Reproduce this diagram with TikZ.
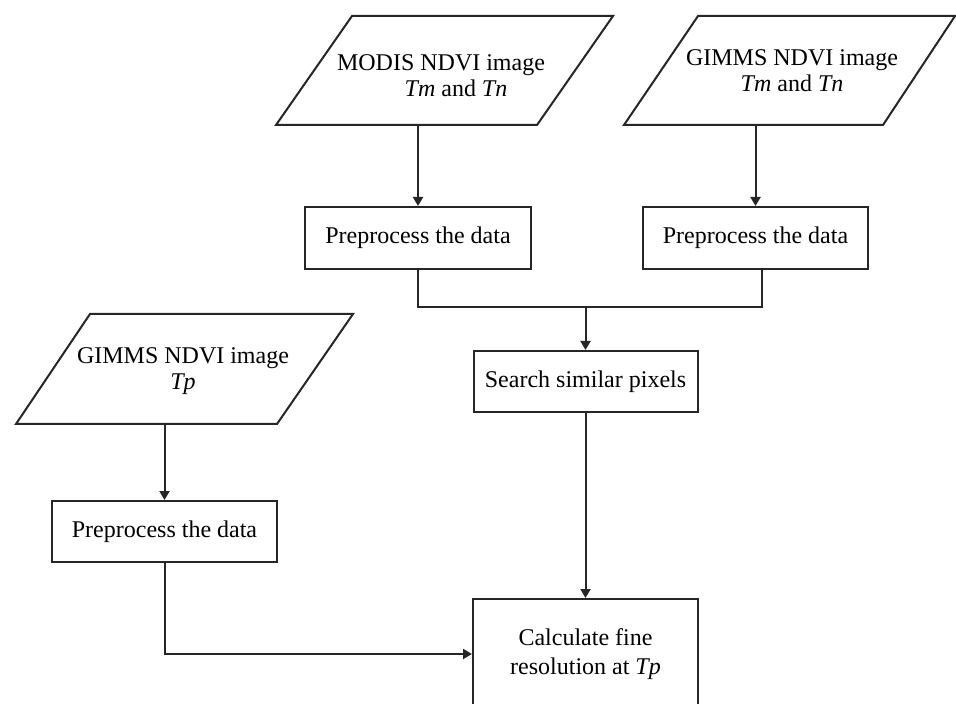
\documentclass[tikz,border=0pt]{standalone}
\usepackage{fontspec}
\setmainfont{Liberation Serif}
\usetikzlibrary{arrows.meta,calc}
\definecolor{ln}{HTML}{262626}
\begin{document}
\begin{tikzpicture}[x=0.5pt,y=-0.5pt,
  box/.style={draw=ln, line width=1pt, inner sep=0pt, align=center,
    font=\fontsize{12}{14.5}\selectfont},
  para/.style={draw=ln, line width=1pt, line join=miter},
  ptext/.style={inner sep=0pt, align=center, font=\fontsize{12}{13}\selectfont},
  arr/.style={draw=ln, line width=1pt, -{Triangle[length=4.5pt,width=5pt]}},
  con/.style={draw=ln, line width=1pt}]
\useasboundingbox (0,0) rectangle (956,704);
\clip (0,0) rectangle (956,704);
\fill[white] (0,0) rectangle (956,704);

% parallelograms
\draw[para] (276,125) -- (352,16) -- (613,16) -- (537,125) -- cycle;
\node[ptext] (modis) at (441,76) {MODIS NDVI image\\\hspace*{15pt}\textit{Tm} and \textit{Tn}};
\coordinate (mo) at (418,125);

\draw[para] (624,125) -- (698,16) -- (955,16) -- (883,125) -- cycle;
\node[ptext] (gimms) at (792,71) {GIMMS NDVI image\\\textit{Tm} and \textit{Tn}};
\coordinate (go) at (755.5,125);

\draw[para] (16,424) -- (90,314) -- (353,314) -- (277,424) -- cycle;
\node[ptext] (gtp) at (183,371.5) {GIMMS NDVI image\\\textit{Tp}};
\coordinate (to) at (164.5,424);

% boxes
\node[box, minimum width=113pt, minimum height=31pt] (p1) at (418,238) {Preprocess the data};
\node[box, minimum width=112.5pt, minimum height=31pt] (p2) at (755.5,238) {Preprocess the data};
\node[box, minimum width=112pt, minimum height=30.5pt] (s) at (585.5,381.5) {Search similar pixels};
\node[box, minimum width=112.5pt, minimum height=30.5pt] (p3) at (164.5,531.5) {Preprocess the data};
\node[box, minimum width=112.5pt, minimum height=55pt] (c) at (585.5,654) {Calculate fine\\resolution at \textit{Tp}};

% connectors
\draw[arr] (mo) -- (mo |- p1.north);
\draw[arr] (go) -- (go |- p2.north);
\coordinate (j) at (585.5,307);
\coordinate (p2o) at (762,269);
\draw[con] (p1.south) |- (j) -| (p2o);
\draw[arr] (j) -- (s.north);
\draw[arr] (s.south) -- (c.north);
\draw[arr] (to) -- (to |- p3.north);
\draw[arr] (p3.south) |- (c.west);
\end{tikzpicture}
\end{document}
